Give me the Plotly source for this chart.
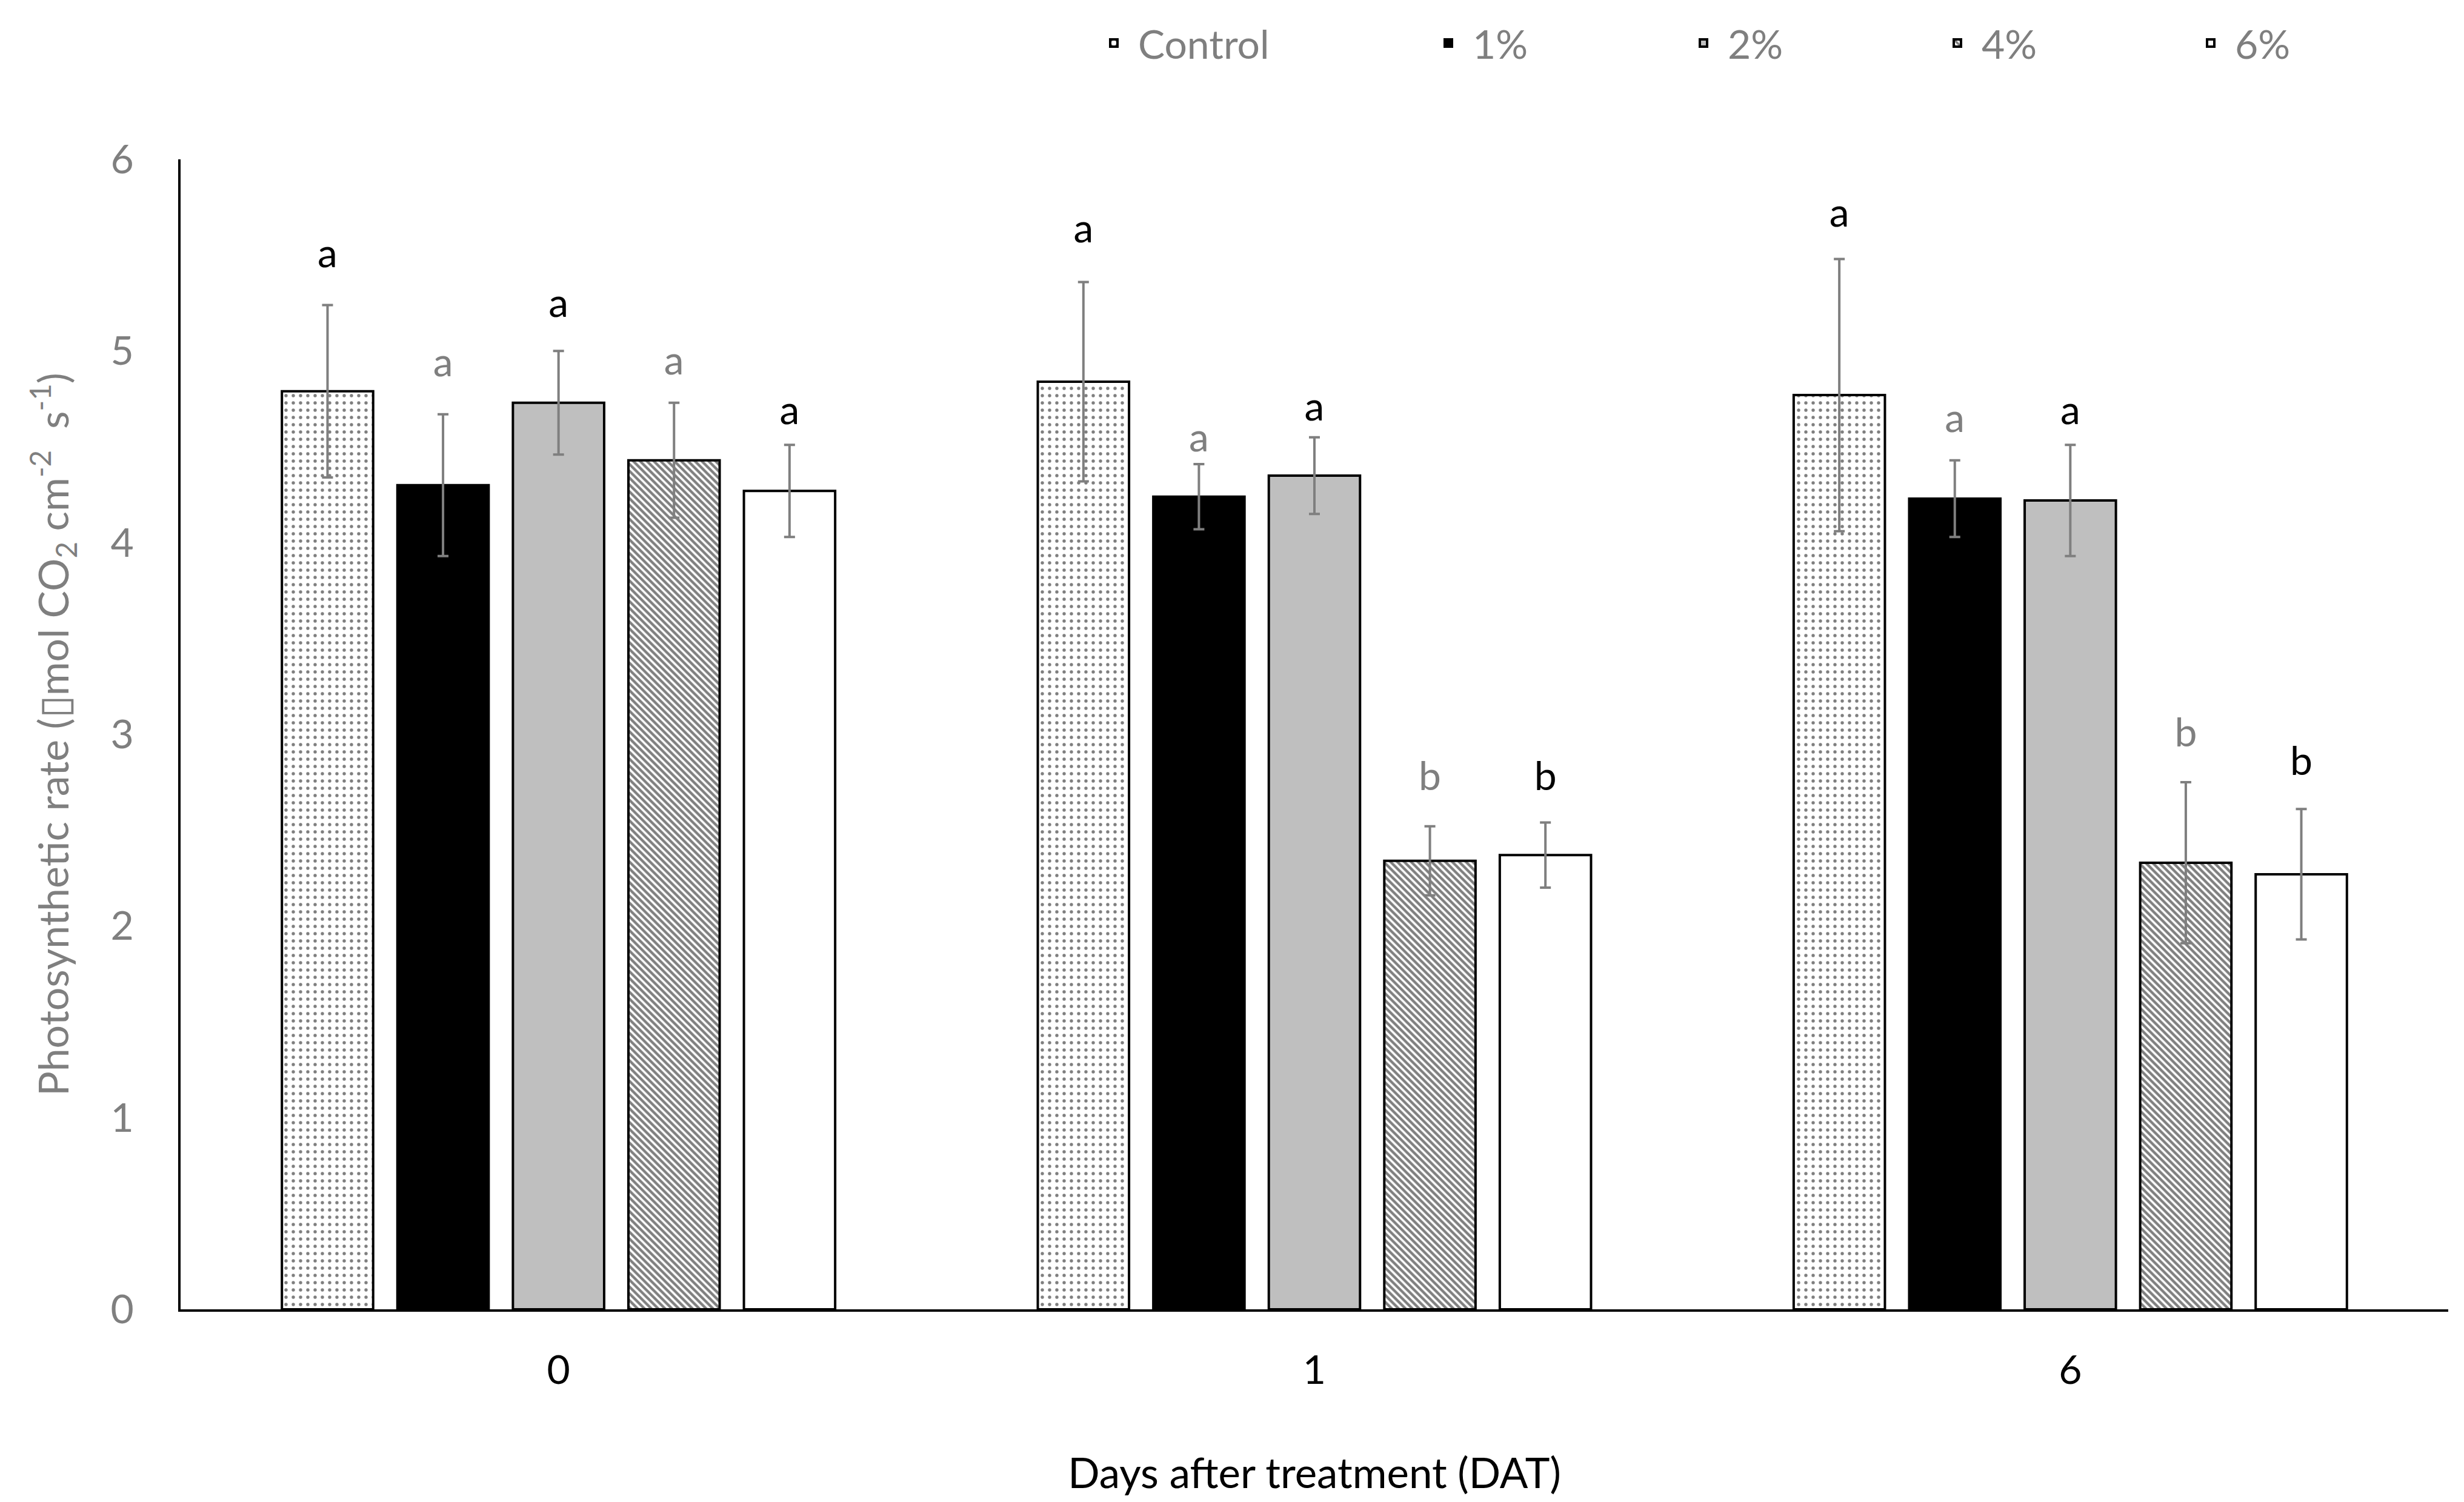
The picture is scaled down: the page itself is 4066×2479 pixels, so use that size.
import plotly.graph_objects as go

# ---------------- data ----------------
categories = ["0", "1", "6"]
series_names = ["Control", "1%", "2%", "4%", "6%"]

control = [4.79, 4.84, 4.77]
pct1 = [4.30, 4.24, 4.23]
pct2 = [4.73, 4.35, 4.22]
pct4 = [4.43, 2.34, 2.33]
pct6 = [4.27, 2.37, 2.27]

err_control = [0.45, 0.52, 0.71]
err_pct1 = [0.37, 0.17, 0.20]
err_pct2 = [0.27, 0.20, 0.29]
err_pct4 = [0.30, 0.18, 0.42]
err_pct6 = [0.24, 0.17, 0.34]

letters_control = ["a", "a", "a"]
letters_pct1 = ["a", "a", "a"]
letters_pct2 = ["a", "a", "a"]
letters_pct4 = ["a", "b", "b"]
letters_pct6 = ["a", "b", "b"]

letter_y_control = [5.49, 5.62, 5.70]
letter_y_pct1 = [4.92, 4.53, 4.63]
letter_y_pct2 = [5.23, 4.69, 4.67]
letter_y_pct4 = [4.93, 2.76, 2.99]
letter_y_pct6 = [4.67, 2.76, 2.84]

y_ticks = [0, 1, 2, 3, 4, 5, 6]

values = [control, pct1, pct2, pct4, pct6]
errors = [err_control, err_pct1, err_pct2, err_pct4, err_pct6]
letters = [letters_control, letters_pct1, letters_pct2, letters_pct4, letters_pct6]
letter_ys = [letter_y_control, letter_y_pct1, letter_y_pct2, letter_y_pct4, letter_y_pct6]

# ---------------- styles ----------------
FONT = "Lato"
FS = 66
GRAY = "#7f7f7f"

styles = [
    dict(color="white", pattern=dict(shape=".", fgcolor="black", bgcolor="white", size=12, solidity=0.16)),
    dict(color="black", pattern=None),
    dict(color="#bfbfbf", pattern=None),
    dict(color="white", pattern=dict(shape="\\", fgcolor="black", bgcolor="white", size=8, solidity=0.55)),
    dict(color="white", pattern=None),
]
letter_colors = ["black", GRAY, "black", GRAY, "black"]

W, H = 4050, 2463
ML, MR, MT, MB = 290, 18, 255, 310
PW = W - ML - MR
PH = H - MT - MB

# legend item left edges (figure px)
legend_left_px = [1790, 2342, 2763, 3182, 3600]
legend_y = 1 + (MT - 63) / PH

BARGAP = 0.236

fig = go.Figure()

for i, name in enumerate(series_names):
    st = styles[i]
    marker = dict(color=st["color"], line=dict(color="black", width=4))
    if st["pattern"] is not None:
        marker["pattern"] = st["pattern"]
    legend_key = "legend" if i == 0 else f"legend{i + 1}"
    fig.add_trace(go.Bar(
        x=categories, y=values[i], name=name,
        offsetgroup=name,
        marker=marker,
        error_y=dict(type="data", array=errors[i], visible=True,
                     color=GRAY, thickness=4, width=9),
        legend=legend_key,
        hoverinfo="skip",
    ))

for i, name in enumerate(series_names):
    fig.add_trace(go.Scatter(
        x=categories, y=letter_ys[i], mode="text", text=letters[i],
        textposition="middle center", offsetgroup=name,
        textfont=dict(family=FONT, size=FS, color=letter_colors[i]),
        showlegend=False, cliponaxis=False, hoverinfo="skip",
    ))

layout_legends = {}
for i in range(5):
    key = "legend" if i == 0 else f"legend{i + 1}"
    layout_legends[key] = dict(
        x=(legend_left_px[i] - ML) / PW, y=legend_y,
        xanchor="left", yanchor="middle",
        orientation="h", itemwidth=70,
        font=dict(family=FONT, size=FS, color=GRAY),
        bgcolor="rgba(0,0,0,0)", borderwidth=0,
        itemclick=False, itemdoubleclick=False,
    )

fig.update_layout(
    width=W, height=H,
    margin=dict(l=ML, r=MR, t=MT, b=MB, pad=0),
    paper_bgcolor="white", plot_bgcolor="white",
    barmode="group", bargap=BARGAP, bargroupgap=0.21,
    scattermode="group", scattergap=BARGAP,
    font=dict(family=FONT, size=FS, color=GRAY),
    showlegend=True,
    **layout_legends,
    xaxis=dict(
        type="category", showline=True, linecolor="black", linewidth=4,
        ticks="", showgrid=False, zeroline=False,
        tickfont=dict(family=FONT, size=FS, color="black"),
        ticklabelstandoff=40,
        title=dict(text="Days after treatment (DAT)",
                   font=dict(family=FONT, size=69, color="black"), standoff=111),
    ),
    yaxis=dict(
        range=[0, 6], tickvals=y_ticks, showline=True, linecolor="black", linewidth=4,
        ticks="", showgrid=False, zeroline=False,
        tickfont=dict(family=FONT, size=FS, color=GRAY),
        ticklabelstandoff=60,
        title=dict(text="Photosynthetic rate (▯mol CO<sub>2</sub> cm<sup>-2</sup>  s<sup>-1</sup>)",
                   font=dict(family=FONT, size=68, color=GRAY), standoff=48),
    ),
)

fig.write_html("out.html")
